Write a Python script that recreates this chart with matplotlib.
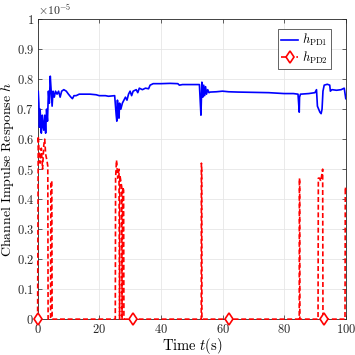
import numpy as np
import matplotlib
matplotlib.use("Agg")
import matplotlib.pyplot as plt
from matplotlib.ticker import FuncFormatter

# ---- data (values in units of 1e-5) ----
t_pd1 = [0.0, 0.2, 0.4, 0.6, 0.8, 1.0, 1.2, 1.5, 1.8, 2.0, 2.3, 2.6, 2.9, 3.2, 3.5, 3.8,
         4.1, 4.4, 4.7, 5.0, 5.4, 5.8, 6.3, 6.8, 7.3, 7.8, 8.5, 9.3, 10.0, 10.8, 11.3,
         11.8, 12.5, 13.5, 15, 17, 19, 20, 21, 22, 23, 24, 25, 25.5, 25.7, 25.9, 26.1,
         26.4, 26.6, 27.0, 27.5, 28.0, 28.5, 29.0, 29.5, 30.0, 30.5, 31.0, 32.0, 32.5,
         33.0, 34.0, 35.0, 36.0, 36.5, 37.5, 40, 43, 45.5, 46, 47, 50, 52.5, 52.8, 53.0,
         53.3, 53.6, 53.9, 54.2, 54.5, 54.8, 55.2, 55.6, 56.0, 58, 60, 62, 65, 70, 75,
         80, 83, 84.5, 84.7, 84.9, 85.0, 85.3, 88, 90, 90.5, 90.8, 91.2, 91.6, 92.0,
         92.3, 92.6, 93.0, 94.0, 94.8, 95.0, 95.5, 97, 98.5, 99.5, 100]
h_pd1 = [0.75, 0.76, 0.72, 0.64, 0.70, 0.66, 0.62, 0.68, 0.64, 0.63, 0.68, 0.62, 0.70,
         0.66, 0.76, 0.72, 0.81, 0.76, 0.71, 0.76, 0.74, 0.76, 0.75, 0.76, 0.74, 0.76,
         0.765, 0.76, 0.75, 0.74, 0.735, 0.745, 0.745, 0.75, 0.75, 0.75, 0.748, 0.745,
         0.745, 0.745, 0.743, 0.744, 0.745, 0.68, 0.66, 0.73, 0.70, 0.67, 0.72, 0.70,
         0.72, 0.73, 0.74, 0.73, 0.75, 0.76, 0.745, 0.76, 0.765, 0.755, 0.77, 0.765,
         0.77, 0.768, 0.78, 0.785, 0.785, 0.786, 0.785, 0.78, 0.782, 0.782, 0.782, 0.72,
         0.68, 0.79, 0.74, 0.78, 0.745, 0.775, 0.75, 0.765, 0.755, 0.757, 0.758, 0.76,
         0.758, 0.757, 0.756, 0.755, 0.752, 0.752, 0.75, 0.72, 0.69, 0.74, 0.75, 0.752,
         0.755, 0.765, 0.71, 0.70, 0.69, 0.685, 0.70, 0.76, 0.78, 0.783, 0.78, 0.76,
         0.765, 0.763, 0.765, 0.77, 0.735]

t_pd2 = [0.0, 0.2, 0.5, 0.8, 1.2, 1.6, 2.0, 2.3, 2.6, 3.0, 3.3, 3.4, 4.2, 4.3, 4.6, 4.7,
         25.2, 25.3, 25.6, 26.0, 26.4, 26.6, 26.7, 27.0, 27.3, 27.4, 27.6, 27.9, 28.0,
         31.0, 53.1, 53.15, 53.25, 53.3, 62.0, 84.9, 84.95, 85.05, 85.1,
         91.0, 91.1, 91.5, 91.9, 92.2, 92.5, 92.6, 92.9, 99.75, 99.85, 100.0]
h_pd2 = [0.0, 0.61, 0.55, 0.52, 0.57, 0.50, 0.58, 0.60, 0.55, 0.53, 0.51, 0.0, 0.0, 0.46,
         0.46, 0.0,
         0.0, 0.47, 0.53, 0.47, 0.50, 0.0, 0.48, 0.46, 0.44, 0.0, 0.44, 0.43, 0.0,
         0.0, 0.0, 0.52, 0.50, 0.0, 0.0, 0.0, 0.47, 0.46, 0.0,
         0.0, 0.47, 0.47, 0.46, 0.48, 0.50, 0.0, 0.0, 0.0, 0.44, 0.43]
marker_times = [0.0, 31.0, 62.0, 92.9]

x_ticks = [0, 20, 40, 60, 80, 100]
y_ticks = [0, 0.1, 0.2, 0.3, 0.4, 0.5, 0.6, 0.7, 0.8, 0.9, 1.0]

plt.rcParams['mathtext.fontset'] = 'cm'
plt.rcParams['font.family'] = 'serif'
plt.rcParams['font.serif'] = ['DejaVu Serif']

fig = plt.figure(figsize=(3.55, 3.55), dpi=100)
ax = fig.add_axes([0.106, 0.101, 0.868, 0.845])

ax.plot(t_pd1, h_pd1, color=(0, 0, 1), lw=1.2, label=r'$h_{\rm PD1}$', zorder=3)
midx = [int(np.argmin(np.abs(np.array(t_pd2) - m))) for m in marker_times]
ax.plot(t_pd2, h_pd2, color=(1, 0, 0), lw=1.2, ls=(0, (3, 1.6)), marker='d',
        markersize=6, markerfacecolor='white', markeredgecolor=(1, 0, 0),
        markeredgewidth=1.2, markevery=midx, label=r'$h_{\rm PD2}$', zorder=4,
        clip_on=False)

ax.set_xlim(0, 100)
ax.set_ylim(0, 1.0)
ax.set_xticks(x_ticks)
ax.set_yticks(y_ticks)
fmt = FuncFormatter(lambda v, p: r'$%g$' % round(v, 2))
ax.xaxis.set_major_formatter(fmt)
ax.yaxis.set_major_formatter(fmt)
ax.tick_params(direction='in', top=True, right=True, labelsize=9, length=3,
               width=0.5, colors='#262626', pad=2.5)
ax.grid(True, color='#e6e6e6', lw=0.6)
ax.set_axisbelow(True)
for s in ax.spines.values():
    s.set_color('#262626')
    s.set_linewidth(0.6)

ax.set_xlabel(r'$\mathrm{Time}\ t\mathrm{(s)}$', fontsize=10.5, labelpad=0)
ax.set_ylabel(r'$\mathrm{Channel\ Impulse\ Response}\ h$', fontsize=10, labelpad=0)
ax.text(0.0, 1.003, r'$\times10^{-5}$', transform=ax.transAxes, fontsize=8.5,
        ha='left', va='bottom', color='#262626')

leg = ax.legend(loc='upper right', bbox_to_anchor=(0.952, 0.967), fontsize=9,
                frameon=True, fancybox=False, edgecolor='#262626', framealpha=1,
                handlelength=1.4, handletextpad=0.3, borderpad=0.25,
                labelspacing=0.1, borderaxespad=0.0)
leg.get_frame().set_linewidth(0.5)

fig.savefig('out.png', dpi=100)
